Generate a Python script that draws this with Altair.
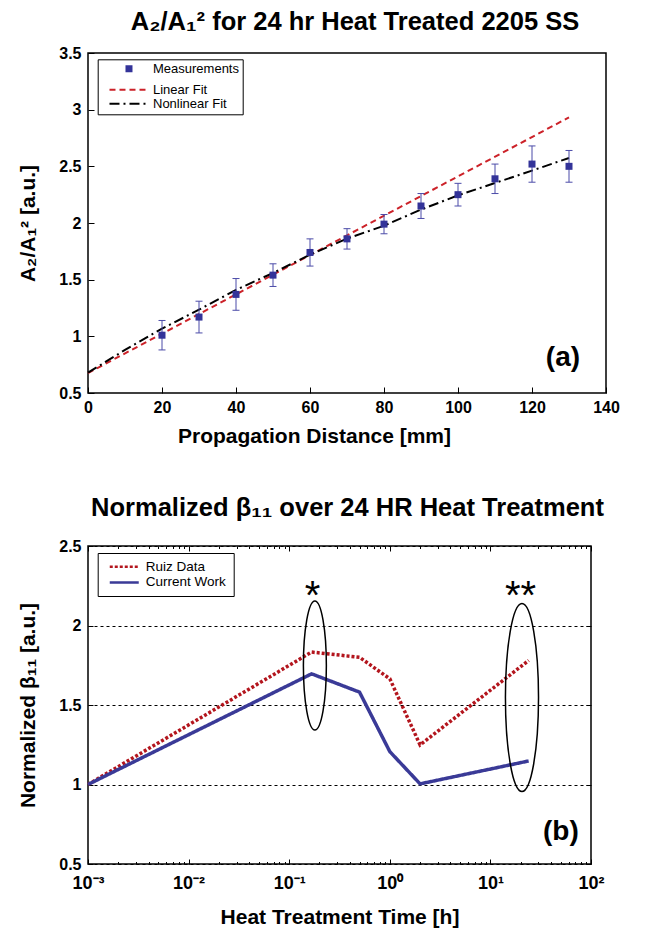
import altair as alt
import pandas as pd

FONT = "Liberation Sans"

# ---------------- Panel (a) data ----------------
DIST_MM = [20, 30, 40, 50, 60, 70, 80, 90, 100, 110, 120, 130]
RATIO = [1.01, 1.17, 1.37, 1.54, 1.74, 1.86, 1.99, 2.15, 2.25, 2.39, 2.52, 2.50]
RATIO_ERR = [0.13, 0.14, 0.14, 0.10, 0.12, 0.09, 0.085, 0.11, 0.10, 0.13, 0.16, 0.14]

LIN_X = [0, 130]
LIN_Y = [0.676, 2.932]
NONLIN_X = [0, 10, 20, 30, 40, 50, 60, 70, 80, 90, 100, 110, 120, 130]
NONLIN_Y = [0.68, 0.88, 1.068, 1.235, 1.41, 1.559, 1.72, 1.862, 1.976, 2.118, 2.244, 2.353, 2.462, 2.574]

X_TICKS_A = [0, 20, 40, 60, 80, 100, 120, 140]
Y_TICKS_A = [0.5, 1.0, 1.5, 2.0, 2.5, 3.0, 3.5]

# ---------------- Panel (b) data ----------------
TIME_H = [0.001, 0.167, 0.5, 1, 2, 24]
RUIZ = [1.0, 1.833, 1.80, 1.665, 1.249, 1.78]
CURRENT = [1.0, 1.696, 1.581, 1.207, 1.004, 1.148]

MAJOR_T = [0.001, 0.01, 0.1, 1, 10, 100]
MAJOR_LABELS = ["10⁻³", "10⁻²", "10⁻¹", "10⁰", "10¹", "10²"]
MINOR_MULT = [2, 3, 4, 5, 6, 7, 8, 9]
MINOR_T = [m * d for d in MAJOR_T[:-1] for m in MINOR_MULT]
Y_TICKS_B = [0.5, 1.0, 1.5, 2.0, 2.5]

# annotations (data coordinates)
ELL1_C = (0.18, 1.749)
ELL2_C = (20.6, 1.547)
STAR1 = (0.171, 2.242, "*")
STAR2 = (19.9, 2.242, "**")
LABEL_A = (133, 0.81, "(a)")
LABEL_B = (75.5, 0.70, "(b)")

# ---------------- sizes / styles ----------------
W1, H1 = 518, 340
W2, H2 = 503, 318

SERIES_A = ["Measurements", "Linear Fit", "Nonlinear Fit"]
COL_A = ["#333399", "#cc2229", "#000000"]
# legend symbol for "Measurements" is a short thick segment = filled square
DASH_A = [[0, 16, 7, 40], [6, 4], [10, 4, 2, 4]]
WIDTH_A = [7, 2, 2]
LINE_A = "M-6.17,0L6.17,0"
SQUARE = "M-0.7,-0.7L0.7,-0.7L0.7,0.7L-0.7,0.7Z"
ERR_COL = "#4b4ba8"

SERIES_B = ["Ruiz Data", "Current Work"]
COL_B = ["#b3151d", "#3a3a97"]
DASH_B = [[3, 2], [1, 0]]
LINE_B = "M-2.9,0L2.9,0"

ELL1_SHAPE = "M0,-1A0.178,1,0,1,1,0,1A0.178,1,0,1,1,0,-1Z"
ELL2_SHAPE = "M0,-1A0.176,1,0,1,1,0,1A0.176,1,0,1,1,0,-1Z"

# ---------------- tables ----------------
meas = pd.DataFrame({
    "x": DIST_MM,
    "y": RATIO,
    "lo": [r - e for r, e in zip(RATIO, RATIO_ERR)],
    "hi": [r + e for r, e in zip(RATIO, RATIO_ERR)],
})
fits = pd.concat([
    pd.DataFrame({"x": LIN_X, "y": LIN_Y, "series": "Linear Fit"}),
    pd.DataFrame({"x": NONLIN_X, "y": NONLIN_Y, "series": "Nonlinear Fit"}),
])
lines_b = pd.concat([
    pd.DataFrame({"t": TIME_H, "v": RUIZ, "series": "Ruiz Data"}),
    pd.DataFrame({"t": TIME_H, "v": CURRENT, "series": "Current Work"}),
])

# ---------------- panel (a) ----------------
xa = alt.Scale(domain=[0, 140], nice=False, zero=False)
ya = alt.Scale(domain=[0.5, 3.5], nice=False, zero=False)

lab_kw = dict(labelFont=FONT, labelFontSize=16, labelFontWeight="bold", labelColor="black")
tit_kw = dict(titleFont=FONT, titleFontSize=21, titleFontWeight="bold", titleColor="black")

main_x_a = alt.Axis(orient="bottom", values=X_TICKS_A, ticks=False, domain=False, grid=False,
                    labelPadding=6, labelFlush=False, title="Propagation Distance [mm]",
                    titlePadding=10, titleX=226, titleAlign="center", **lab_kw, **tit_kw)
main_y_a = alt.Axis(orient="left", values=Y_TICKS_A, format=".1~f", ticks=False, domain=False,
                    grid=False, labelPadding=7, labelFlush=False, title="A₂/A₁² [a.u.]",
                    titleX=-50, titleBaseline="bottom", **lab_kw, **tit_kw)
tick_x_a = alt.Axis(orient="top", offset=-H1, values=X_TICKS_A, labels=False, domain=False,
                    grid=False, ticks=True, tickSize=6, tickColor="black", tickWidth=1, title=None)
tick_y_a = alt.Axis(orient="right", offset=-W1, values=Y_TICKS_A, labels=False, domain=False,
                    grid=False, ticks=True, tickSize=6, tickColor="black", tickWidth=1, title=None)

leg_a = alt.Legend(title=None, orient="none", legendX=9.7, legendY=6.3, fillColor="white",
                   strokeColor="black", padding=3, symbolType=LINE_A, symbolSize=36,
                   symbolStrokeWidth=7, symbolOffset=20.8, labelOffset=18.5, labelFont=FONT,
                   labelFontSize=13, labelColor="black", rowPadding=0, labelLimit=0)

fits_layer = alt.Chart(fits).mark_line().encode(
    x=alt.X("x:Q", scale=xa, axis=main_x_a),
    y=alt.Y("y:Q", scale=ya, axis=main_y_a),
    stroke=alt.Stroke("series:N", scale=alt.Scale(domain=SERIES_A, range=COL_A), legend=leg_a),
    strokeDash=alt.StrokeDash("series:N", scale=alt.Scale(domain=SERIES_A, range=DASH_A), legend=leg_a),
    strokeWidth=alt.StrokeWidth("series:N", scale=alt.Scale(type="ordinal", domain=SERIES_A, range=WIDTH_A),
                                legend=leg_a),
)
err_layer = alt.Chart(meas).mark_rule(color=ERR_COL, strokeWidth=1).encode(
    x=alt.X("x:Q", scale=xa, axis=tick_x_a),
    y=alt.Y("lo:Q", scale=ya, axis=tick_y_a),
    y2="hi:Q",
)
cap_lo = alt.Chart(meas).mark_tick(color=ERR_COL, size=7, thickness=1, orient="horizontal", opacity=1).encode(
    x=alt.X("x:Q", scale=xa, axis=None), y=alt.Y("lo:Q", scale=ya, axis=None))
cap_hi = alt.Chart(meas).mark_tick(color=ERR_COL, size=7, thickness=1, orient="horizontal", opacity=1).encode(
    x=alt.X("x:Q", scale=xa, axis=None), y=alt.Y("hi:Q", scale=ya, axis=None))
pts_layer = alt.Chart(meas).mark_point(shape=SQUARE, filled=True, size=100, opacity=1,
                                       color=COL_A[0]).encode(
    x=alt.X("x:Q", scale=xa, axis=None),
    y=alt.Y("y:Q", scale=ya, axis=None),
)
txt_a = alt.Chart(pd.DataFrame({"x": [LABEL_A[0]], "y": [LABEL_A[1]], "t": [LABEL_A[2]]})).mark_text(
    align="right", baseline="middle", font=FONT, fontSize=28, fontWeight="bold", color="black").encode(
    x=alt.X("x:Q", scale=xa, axis=None), y=alt.Y("y:Q", scale=ya, axis=None), text="t:N")

panel_a = alt.layer(fits_layer, err_layer, cap_lo, cap_hi, pts_layer, txt_a).resolve_axis(
    x="independent", y="independent").properties(
    width=W1, height=H1,
    title=alt.TitleParams("A₂/A₁² for 24 hr Heat Treated 2205 SS", font=FONT, fontSize=25.5,
                          fontWeight="bold", color="black", anchor="middle", dx=8,
                          baseline="alphabetic", offset=-10))

# ---------------- panel (b) ----------------
xb = alt.Scale(type="log", domain=[0.001, 100], nice=False)
yb = alt.Scale(domain=[0.5, 2.5], nice=False, zero=False)

label_expr = " : ".join(
    f"datum.value < {v * 3} ? '{lab}'" for v, lab in zip(MAJOR_T[:-1], MAJOR_LABELS[:-1])
) + f" : '{MAJOR_LABELS[-1]}'"

major_test = "abs(log(datum.value)/LN10 - round(log(datum.value)/LN10)) < 0.001"
tick_cond = {"condition": {"test": major_test, "value": 5}, "value": 2.5}

main_x_b = alt.Axis(orient="bottom", values=MAJOR_T, labelExpr=label_expr, ticks=False, domain=False,
                    grid=False, labelPadding=10, labelFlush=False, title="Heat Treatment Time [h]",
                    titlePadding=14, labelFont=FONT, labelFontSize=18, labelFontWeight="bold",
                    labelColor="black", **tit_kw)
main_y_b = alt.Axis(orient="left", values=Y_TICKS_B, format=".1~f", ticks=False, domain=False,
                    grid=True, gridColor="black", gridDash=[3, 3], gridWidth=1, gridOpacity=1,
                    labelPadding=7, labelFlush=False, title="Normalized β₁₁ [a.u.]",
                    titleX=-50, titleBaseline="bottom", **lab_kw, **tit_kw)
tick_x_b1 = alt.Axis(orient="top", offset=-H2, values=MAJOR_T + MINOR_T, labels=False, domain=False,
                     grid=False, ticks=True, tickSize=tick_cond, tickColor="black", tickWidth=1, title=None)
tick_x_b2 = alt.Axis(orient="bottom", offset=-H2, values=MAJOR_T + MINOR_T, labels=False, domain=False,
                     grid=False, ticks=True, tickSize=tick_cond, tickColor="black", tickWidth=1, title=None)
tick_y_b1 = alt.Axis(orient="right", offset=-W2, values=Y_TICKS_B, labels=False, domain=False,
                     grid=False, ticks=True, tickSize=5, tickColor="black", tickWidth=1, title=None)
tick_y_b2 = alt.Axis(orient="left", offset=-W2, values=Y_TICKS_B, labels=False, domain=False,
                     grid=False, ticks=True, tickSize=5, tickColor="black", tickWidth=1, title=None)

leg_b = alt.Legend(title=None, orient="none", legendX=9.7, legendY=7, fillColor="white",
                   strokeColor="black", padding=7, symbolType=LINE_B, symbolSize=100,
                   symbolStrokeWidth=2.5, symbolOffset=12.8, labelOffset=14.7, labelFont=FONT,
                   labelFontSize=13.5, labelColor="black", rowPadding=0.7, labelLimit=0)

lines_layer = alt.Chart(lines_b).mark_line(strokeWidth=3.5).encode(
    x=alt.X("t:Q", scale=xb, axis=main_x_b),
    y=alt.Y("v:Q", scale=yb, axis=main_y_b),
    stroke=alt.Stroke("series:N", scale=alt.Scale(domain=SERIES_B, range=COL_B), legend=leg_b),
    strokeDash=alt.StrokeDash("series:N", scale=alt.Scale(domain=SERIES_B, range=DASH_B), legend=leg_b),
    order=alt.Order("t:Q"),
)
ell1 = alt.Chart(pd.DataFrame({"t": [ELL1_C[0]], "v": [ELL1_C[1]]})).mark_point(
    shape=ELL1_SHAPE, size=16641, filled=False, stroke="black", strokeWidth=1.5, opacity=1).encode(
    x=alt.X("t:Q", scale=xb, axis=tick_x_b1), y=alt.Y("v:Q", scale=yb, axis=tick_y_b1))
ell2 = alt.Chart(pd.DataFrame({"t": [ELL2_C[0]], "v": [ELL2_C[1]]})).mark_point(
    shape=ELL2_SHAPE, size=35344, filled=False, stroke="black", strokeWidth=1.5, opacity=1).encode(
    x=alt.X("t:Q", scale=xb, axis=tick_x_b2), y=alt.Y("v:Q", scale=yb, axis=tick_y_b2))
stars = alt.Chart(pd.DataFrame({"t": [STAR1[0], STAR2[0]], "v": [STAR1[1], STAR2[1]],
                                "s": [STAR1[2], STAR2[2]]})).mark_text(
    font=FONT, fontSize=40, color="black", baseline="alphabetic", dy=22).encode(
    x=alt.X("t:Q", scale=xb, axis=None), y=alt.Y("v:Q", scale=yb, axis=None), text="s:N")
txt_b = alt.Chart(pd.DataFrame({"t": [LABEL_B[0]], "v": [LABEL_B[1]], "s": [LABEL_B[2]]})).mark_text(
    align="right", baseline="middle", font=FONT, fontSize=28, fontWeight="bold", color="black").encode(
    x=alt.X("t:Q", scale=xb, axis=None), y=alt.Y("v:Q", scale=yb, axis=None), text="s:N")

panel_b = alt.layer(lines_layer, ell1, ell2, stars, txt_b).resolve_axis(
    x="independent", y="independent").properties(
    width=W2, height=H2,
    title=alt.TitleParams("Normalized β₁₁ over 24 HR Heat Treatment", font=FONT, fontSize=25.5,
                          fontWeight="bold", color="black", anchor="middle", dx=8,
                          baseline="alphabetic", offset=-3))

chart = alt.vconcat(panel_a, panel_b, spacing=47).resolve_scale(
    stroke="independent", strokeDash="independent", strokeWidth="independent"
).properties(
    padding={"left": 16, "top": 8, "right": 5, "bottom": 5},
    background="white",
).configure_view(stroke="black", strokeWidth=1.5)

chart.save("out.html", embed_options={"renderer": "svg", "actions": False})
